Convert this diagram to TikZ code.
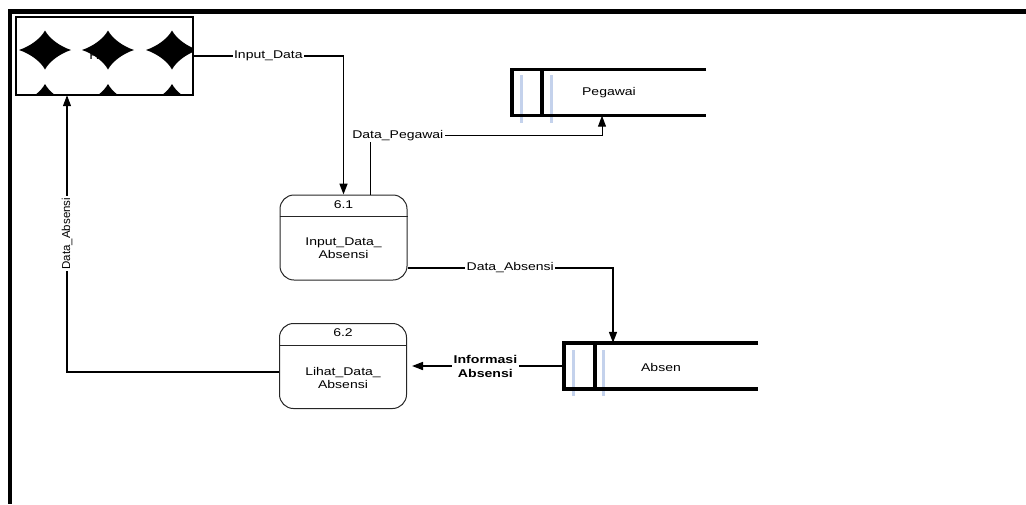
\documentclass[tikz,border=0pt]{standalone}
\usepackage{fontspec}
\setmainfont{Liberation Sans}
\newfontfamily\widefont{Liberation Sans}[FakeStretch=1.25]
\usetikzlibrary{arrows.meta}
\definecolor{storeblue}{RGB}{196,210,236}
\begin{document}
\begin{tikzpicture}[x=1pt,y=-1pt,
  lbl/.style={font=\widefont\fontsize{11.2}{13}\selectfont, fill=white, inner sep=1.5pt, align=center},
  txt/.style={font=\widefont\fontsize{11.2}{13}\selectfont, align=center, inner sep=0pt},
  tip/.style={-{Triangle[length=11pt,width=8pt]}},
  flow/.style={line width=1.6pt, tip},
  proc/.style={draw=black!85, line width=1pt, rounded corners=14pt, minimum width=127pt, minimum height=85pt, inner sep=0pt},
  storebox/.style={minimum width=194pt, minimum height=46pt, inner sep=0pt},
  storeline/.style={line width=3.5pt},
  bluebar/.style={draw=storeblue, line width=3pt}
]
\useasboundingbox (0,0) rectangle (1026,504);
% frame
\draw[line width=4.5pt] (8,11.5) -- (1026,11.5);
\draw[line width=4pt] (10,9.5) -- (10,504);

% external entity
\node[minimum width=177pt, minimum height=78pt, inner sep=0pt, font=\widefont\fontsize{11.2}{13}\selectfont] (ent) at (104.5,56) {HRD};
\begin{scope}
\clip (ent.north west) rectangle (ent.south east);
\foreach \cx in {45,108,172}{\foreach \cy in {-3,50,103.5}{
 \fill ({\cx+26},\cy)
   .. controls ({\cx+14},{\cy-4}) and ({\cx+4},{\cy-12}) .. (\cx,{\cy-19.5})
   .. controls ({\cx-4},{\cy-12}) and ({\cx-14},{\cy-4}) .. ({\cx-26},\cy)
   .. controls ({\cx-14},{\cy+4}) and ({\cx-4},{\cy+12}) .. (\cx,{\cy+19.5})
   .. controls ({\cx+4},{\cy+12}) and ({\cx+14},{\cy+4}) .. ({\cx+26},\cy) -- cycle;
}}
\end{scope}
\draw[line width=1.5pt] (ent.north west) rectangle (ent.south east);

% processes
\node[proc] (p1) at (343.5,237.5) {};
\draw[draw=black!85, line width=1pt] (p1.west |- 0,216) -- (p1.east |- 0,216);
\node[txt] (p1n) at (343.5,205) {6.1};
\node[txt] (p1t) at (343.5,248.5) {Input\_Data\_\\Absensi};

\node[proc] (p2) at (343,366) {};
\draw[draw=black!85, line width=1pt] (p2.west |- 0,345) -- (p2.east |- 0,345);
\node[txt] (p2n) at (343,333) {6.2};
\node[txt] (p2t) at (343,378) {Lihat\_Data\_\\Absensi};

% data stores
\node[storebox] (peg) at (609,92.5) {};
\draw[bluebar] (521,75) -- (521,123);
\draw[bluebar] (551,75) -- (551,123);
\draw[storeline] (peg.north east) -- (peg.north west) -- (peg.south west) -- (peg.south east);
\draw[storeline] ([xshift=30pt]peg.north west) -- ([xshift=30pt]peg.south west);
\node[txt] (pegt) at (609,93) {Pegawai};

\node[storebox] (abs) at (661,366) {};
\draw[bluebar] (573,350) -- (573,396);
\draw[bluebar] (603,350) -- (603,396);
\draw[storeline] (abs.north east) -- (abs.north west) -- (abs.south west) -- (abs.south east);
\draw[storeline] ([xshift=31pt]abs.north west) -- ([xshift=31pt]abs.south west);
\node[txt] (abst) at (661,367) {Absen};

% flows
\draw[flow] (ent.east) -| node[lbl,pos=0.25]{Input\_Data} (p1.north);
\draw[line width=1pt, tip] ([xshift=26.5pt]p1.north) -- ++(0,-59) -| node[lbl,pos=0.06]{Data\_Pegawai} ([xshift=-7pt]peg.south);
\draw[flow] ([yshift=-30.5pt]p1.east) -| node[lbl,pos=0.25]{Data\_Absensi} ([xshift=-48pt]abs.north);
\draw[flow, shorten >=5pt] (abs.west) -- node[lbl, font=\widefont\bfseries\fontsize{11.3}{14}\selectfont]{Informasi\\Absensi} (p2.east);
\draw[line width=1.2pt, tip] ([yshift=-6pt]p2.west) -| node[lbl, rotate=90, font=\fontsize{11.5}{13}\selectfont, pos=0.75]{Data\_Absensi} ([xshift=-37.5pt]ent.south);
\end{tikzpicture}
\end{document}
